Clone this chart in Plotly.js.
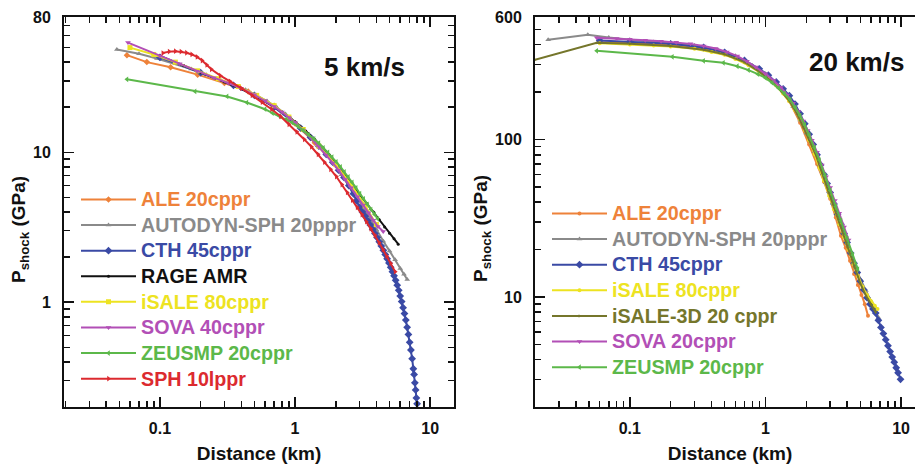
<!DOCTYPE html>
<html>
<head>
<meta charset="utf-8">
<script src="https://cdn.plot.ly/plotly-3.0.1.min.js"></script>
<style>html,body{margin:0;padding:0;background:#fff;overflow:hidden;}#chart{width:930px;height:470px;}</style>
</head>
<body>
<div id="chart"></div>
<script>
// ---------- 5 km/s panel ----------
const ale5X = [0.057, 0.08, 0.12, 0.19, 0.3, 0.45, 0.7, 1.0, 1.4, 2.0, 2.6];
const ale5Y = [44.5, 40, 37, 33, 29, 25.5, 20.5, 15.6, 11.6, 8.2, 6.0];
const autodyn5X = [0.048, 0.07, 0.095, 0.13, 0.17, 0.22, 0.28, 0.35, 0.43, 0.52, 0.62, 0.73, 0.85, 1.0, 1.15, 1.3, 1.5, 1.7, 1.95, 2.2, 2.5, 2.8, 3.2, 3.6, 4.0, 4.5, 5.0, 5.5, 6.0, 6.4, 6.76];
const autodyn5Y = [48.6, 45.5, 42.3, 39, 36, 33, 30.5, 28.3, 26.2, 24, 22, 20, 18, 15.8, 14, 12.6, 11, 9.7, 8.4, 7.1, 6.0, 5.1, 4.3, 3.6, 3.05, 2.55, 2.2, 1.92, 1.68, 1.54, 1.42];
const cth5X = [0.1, 0.2, 0.35, 0.5, 0.7, 0.9, 1.1, 1.3, 1.5, 1.7, 1.9, 2.1, 2.3, 2.5, 2.7, 2.85, 3.0, 3.15, 3.3, 3.45, 3.6, 3.75, 3.9, 4.05, 4.2, 4.35, 4.5, 4.65, 4.8, 4.95, 5.1, 5.25, 5.4, 5.55, 5.7, 5.85, 6.0, 6.15, 6.3, 6.45, 6.6, 6.75, 6.9, 7.05, 7.2, 7.35, 7.5, 7.6, 7.7, 7.8, 7.9, 8.0];
const cth5Y = [43, 34, 28, 24, 20, 16.8, 14.5, 12.6, 11, 9.7, 8.6, 7.6, 6.8, 6.0, 5.3, 4.75, 4.3, 4.0, 3.75, 3.5, 3.28, 3.07, 2.88, 2.7, 2.53, 2.37, 2.22, 2.08, 1.95, 1.83, 1.71, 1.6, 1.5, 1.4, 1.3, 1.2, 1.1, 1.01, 0.92, 0.84, 0.76, 0.68, 0.61, 0.54, 0.48, 0.42, 0.36, 0.33, 0.29, 0.26, 0.23, 0.21];
const rage5X = [0.1, 0.15, 0.2, 0.3, 0.4, 0.5, 0.6, 0.7, 0.8, 0.9, 1.0, 1.2, 1.4, 1.6, 1.8, 2.0, 2.3, 2.6, 3.0, 3.4, 3.8, 4.2, 4.6, 5.0, 5.4, 5.8];
const rage5Y = [44, 38, 34, 29.5, 26.5, 24, 22, 20.2, 18.6, 17.2, 16.0, 13.9, 12.2, 10.8, 9.6, 8.5, 7.2, 6.15, 5.25, 4.55, 4.0, 3.55, 3.18, 2.89, 2.65, 2.44];
const isale5X = [0.06, 0.09, 0.13, 0.19, 0.27, 0.38, 0.52, 0.7, 0.9, 1.15, 1.5, 2.0, 2.6, 3.3, 4.0];
const isale5Y = [50, 45, 40, 35, 31, 27.5, 24, 20.5, 17.2, 14.2, 11.0, 8.3, 6.1, 4.4, 3.3];
const sova5X = [0.058, 0.1, 0.14, 0.188, 0.25, 0.32, 0.4, 0.5, 0.6, 0.7, 0.8, 0.9, 1.0, 1.15, 1.3, 1.5, 1.7, 1.9, 2.1, 2.35, 2.6, 2.9, 3.2, 3.5, 3.8, 4.1, 4.49];
const sova5Y = [54, 44, 39, 34.7, 31.5, 29, 26.7, 24.2, 22.1, 20.2, 18.6, 17.1, 15.8, 14.0, 12.6, 10.9, 9.6, 8.5, 7.6, 6.6, 5.8, 5.05, 4.45, 3.95, 3.52, 3.2, 2.97];
const zeus5X = [0.057, 0.182, 0.314, 0.44, 0.6, 0.68, 0.77, 0.86, 0.95, 1.05, 1.15, 1.26, 1.38, 1.5, 1.62, 1.75, 1.88, 2.02, 2.17, 2.32, 2.48, 2.65, 2.83, 3.02, 3.22, 3.43, 3.65, 3.88, 4.1];
const zeus5Y = [30.7, 25.5, 23.6, 21.5, 19.4, 18.3, 17.4, 16.5, 15.8, 14.9, 14.0, 13.1, 12.3, 11.5, 10.7, 10.0, 9.3, 8.65, 8.0, 7.4, 6.85, 6.3, 5.8, 5.3, 4.9, 4.5, 4.15, 3.85, 3.6];
const sph5X = [0.105, 0.117, 0.13, 0.143, 0.157, 0.172, 0.188, 0.205, 0.222, 0.24, 0.28, 0.33, 0.4, 0.48, 0.57, 0.67, 0.78, 0.9, 1.03, 1.17, 1.32, 1.48, 1.65, 1.83, 2.02, 2.22, 2.43, 2.65, 2.88, 3.12, 3.37, 3.63, 3.9, 4.18, 4.47, 4.77, 5.1, 5.5];
const sph5Y = [46, 47, 47.3, 47, 46.2, 45, 43.3, 41, 38.3, 35.8, 32.5, 29.8, 26.8, 24, 21.6, 19.4, 17.4, 15.4, 13.7, 12.2, 10.9, 9.7, 8.6, 7.7, 6.9, 6.1, 5.4, 4.8, 4.3, 3.85, 3.45, 3.1, 2.8, 2.5, 2.25, 2.03, 1.82, 1.6];

// ---------- 20 km/s panel ----------
const ale20X = [0.06, 0.1, 0.2, 0.35, 0.6, 0.9, 1.2, 1.5, 1.8, 2.1, 2.4, 2.7, 3.0, 3.3, 3.6, 3.9, 4.2, 4.5, 4.8, 5.1, 5.4, 5.7];
const ale20Y = [415, 410, 398, 376, 330, 273, 222, 175, 128, 93, 70, 54, 42, 32, 24.5, 20.5, 17, 14, 11.9, 10.3, 9.0, 7.6];
const autodyn20X = [0.025, 0.049, 0.07, 0.1, 0.15, 0.2, 0.3, 0.45, 0.6, 0.8, 1.0, 1.2, 1.4, 1.6, 1.8, 2.0, 2.3, 2.6, 3.0, 3.5, 4.0, 4.5, 5.0, 5.5, 6.0, 6.4, 6.8];
const autodyn20Y = [430, 463, 445, 430, 416, 408, 395, 368, 340, 295, 262, 228, 196, 162, 133, 110, 84, 63, 44, 31, 22, 16.5, 13, 11, 9.4, 8.3, 7.4];
const cth20X = [0.06, 0.1, 0.2, 0.35, 0.5, 0.7, 0.9, 1.05, 1.2, 1.35, 1.5, 1.65, 1.8, 1.95, 2.1, 2.25, 2.4, 2.55, 2.7, 2.85, 3.0, 3.2, 3.4, 3.6, 3.8, 4.0, 4.25, 4.5, 4.75, 5.0, 5.3, 5.6, 5.9, 6.2, 6.5, 6.8, 7.1, 7.4, 7.7, 8.0, 8.3, 8.6, 8.9, 9.2, 9.5, 9.9];
const cth20Y = [425, 418, 405, 384, 358, 318, 281, 256, 232, 210, 190, 168, 146, 126, 108, 93, 80, 69, 60, 52.5, 46, 39, 33.5, 29, 25.3, 22.2, 19, 16.4, 14.3, 12.6, 11.1, 9.9, 9.0, 8.4, 7.9, 7.1, 6.4, 5.85, 5.35, 4.9, 4.5, 4.15, 3.85, 3.55, 3.3, 3.0];
const isale20X = [0.06, 0.1, 0.15, 0.2, 0.3, 0.4, 0.5, 0.6, 0.75, 0.9, 1.05, 1.2, 1.35, 1.5, 1.65, 1.8, 1.95, 2.1, 2.3, 2.5, 2.7, 2.95, 3.2, 3.5, 3.8, 4.1, 4.45, 4.8, 5.2, 5.6, 6.0, 6.4, 6.7];
const isale20Y = [408, 402, 396, 390, 377, 360, 345, 325, 296, 268, 243, 220, 196, 175, 154, 134, 115, 99, 81, 66, 55, 44, 36, 29, 24, 20, 16.2, 13.6, 11.6, 10.3, 9.4, 8.8, 8.4];
const isale3d20X = [0.02, 0.057, 0.1, 0.2, 0.35, 0.5, 0.7, 0.9, 1.1, 1.3, 1.5, 1.7, 1.9, 2.1, 2.35, 2.6, 2.9, 3.2, 3.6, 4.0, 4.5, 5.0, 5.5, 6.0, 6.5];
const isale3d20Y = [321, 411, 405, 392, 372, 348, 310, 270, 235, 204, 176, 147, 120, 100, 80, 62, 47, 37.5, 28, 21, 15.5, 12.2, 10.2, 9.0, 8.0];
const sova20X = [0.057, 0.08, 0.1, 0.13, 0.17, 0.22, 0.28, 0.35, 0.43, 0.52, 0.62, 0.73, 0.85, 1.0, 1.15, 1.3, 1.45, 1.6, 1.75, 1.9, 2.05, 2.2, 2.4, 2.6, 2.8, 3.0, 3.25, 3.5, 3.8, 4.1];
const sova20Y = [443, 438, 433, 427, 421, 414, 405, 393, 378, 360, 339, 314, 289, 262, 237, 214, 192, 170, 150, 131, 114, 99, 83, 69, 58, 49.5, 41, 34, 27.8, 23];
const zeus20X = [0.057, 0.206, 0.35, 0.49, 0.62, 0.75, 0.88, 1.0, 1.12, 1.25, 1.38, 1.52, 1.66, 1.8, 1.95, 2.1, 2.3, 2.5, 2.75, 3.0, 3.3, 3.6, 4.0, 4.4, 4.8];
const zeus20Y = [366, 335, 316, 307, 292, 276, 260, 246, 229, 212, 196, 179, 160, 142, 124, 107, 89, 74, 59, 47.5, 37.5, 30.5, 23.5, 18.5, 15];

// ---------- labels / ticks ----------
const leftTitle = '5 km/s';
const rightTitle = '20 km/s';
const xTitle = 'Distance (km)';
const yTitle = 'P<sub>shock</sub> (GPa)';
const xTickVals = [0.1, 1, 10];
const xTickText = ['0.1', '1', '10'];
const leftYTickVals = [1, 10, 80];
const leftYTickText = ['1', '10', '80'];
const rightYTickVals = [10, 100, 600];
const rightYTickText = ['10', '100', '600'];
const xMinor = [0.02,0.03,0.04,0.05,0.06,0.07,0.08,0.09,0.2,0.3,0.4,0.5,0.6,0.7,0.8,0.9,2,3,4,5,6,7,8,9];
const leftYMinor = [0.2,0.3,0.4,0.5,0.6,0.7,0.8,0.9,2,3,4,5,6,7,8,9,20,30,40,50,60,70];
const rightYMinor = [3,4,5,6,7,8,9,20,30,40,50,60,70,80,90,200,300,400,500];

const C = {
  ale: '#EE823A', autodyn: '#8A8A8A', cth: '#3A4AA5', rage: '#111111',
  isale: '#EDE321', isale3d: '#75762B', sova: '#B24FB6', zeus: '#5CB84A', sph: '#DC2A2F'
};

function tr(x, y, name, color, symbol, msize, xa, ya, leg) {
  return {
    x: x, y: y, type: 'scatter', mode: 'lines+markers',
    name: '<span style="color:' + color + ';font-size:19.7px">' + name + '</span>',
    line: {color: color, width: 2},
    marker: {color: color, symbol: symbol, size: msize},
    xaxis: xa, yaxis: ya, legend: leg
  };
}

const data = [
  tr(ale5X, ale5Y, 'ALE 20cppr', C.ale, 'diamond', 5, 'x', 'y', 'legend'),
  tr(autodyn5X, autodyn5Y, 'AUTODYN-SPH 20pppr', C.autodyn, 'triangle-up', 5, 'x', 'y', 'legend'),
  tr(cth5X, cth5Y, 'CTH 45cppr', C.cth, 'diamond', 6, 'x', 'y', 'legend'),
  tr(rage5X, rage5Y, 'RAGE AMR', C.rage, 'circle', 3, 'x', 'y', 'legend'),
  tr(isale5X, isale5Y, 'iSALE 80cppr', C.isale, 'square', 5, 'x', 'y', 'legend'),
  tr(sova5X, sova5Y, 'SOVA 40cppr', C.sova, 'triangle-down', 5, 'x', 'y', 'legend'),
  tr(zeus5X, zeus5Y, 'ZEUSMP 20cppr', C.zeus, 'triangle-left', 5, 'x', 'y', 'legend'),
  tr(sph5X, sph5Y, 'SPH 10lppr', C.sph, 'triangle-right', 5, 'x', 'y', 'legend'),

  tr(ale20X, ale20Y, 'ALE 20cppr', C.ale, 'circle', 4, 'x2', 'y2', 'legend2'),
  tr(autodyn20X, autodyn20Y, 'AUTODYN-SPH 20pppr', C.autodyn, 'triangle-up', 5, 'x2', 'y2', 'legend2'),
  tr(cth20X, cth20Y, 'CTH 45cppr', C.cth, 'diamond', 6, 'x2', 'y2', 'legend2'),
  tr(isale20X, isale20Y, 'iSALE 80cppr', C.isale, 'circle', 4, 'x2', 'y2', 'legend2'),
  tr(isale3d20X, isale3d20Y, 'iSALE-3D 20 cppr', C.isale3d, 'triangle-right', 3, 'x2', 'y2', 'legend2'),
  tr(sova20X, sova20Y, 'SOVA 20cppr', C.sova, 'triangle-down', 5, 'x2', 'y2', 'legend2'),
  tr(zeus20X, zeus20Y, 'ZEUSMP 20cppr', C.zeus, 'triangle-left', 5, 'x2', 'y2', 'legend2')
];

const FONT = 'Liberation Sans, Arial, sans-serif';
const W = 930;
function xAxis(domain, range, anchor) {
  return {
    type: 'log', domain: domain, range: range.map(Math.log10), anchor: anchor,
    showline: true, linecolor: '#111', linewidth: 2, mirror: 'allticks',
    ticks: 'inside', ticklen: 10, tickwidth: 1.5, tickcolor: '#111',
    tickmode: 'array', tickvals: xTickVals, ticktext: xTickText,
    tickfont: {family: FONT, size: 16, color: '#111', weight: 'bold'},
    ticklabelstandoff: 6,
    minor: {tickmode: 'array', tickvals: xMinor, ticks: 'inside', ticklen: 6, tickwidth: 1.5, tickcolor: '#111', showgrid: false},
    showgrid: false, zeroline: false,
    title: {text: xTitle, font: {family: FONT, size: 19, color: '#111', weight: 'bold'}, standoff: 10}
  };
}
function yAxis(range, anchor, tv, tt, minorVals) {
  return {
    type: 'log', domain: [0, 1], range: range.map(Math.log10), anchor: anchor,
    showline: true, linecolor: '#111', linewidth: 2, mirror: 'allticks',
    ticks: 'inside', ticklen: 10, tickwidth: 1.5, tickcolor: '#111',
    tickmode: 'array', tickvals: tv, ticktext: tt,
    tickfont: {family: FONT, size: 16, color: '#111', weight: 'bold'},
    ticklabelstandoff: 8,
    minor: {tickmode: 'array', tickvals: minorVals, ticks: 'inside', ticklen: 6, tickwidth: 1.5, tickcolor: '#111', showgrid: false},
    showgrid: false, zeroline: false
  };
}

const legendBase = {
  bgcolor: 'rgba(0,0,0,0)', borderwidth: 0, tracegroupgap: 0,
  font: {family: FONT, size: 17.4, weight: 'bold'},
  itemwidth: 55, traceorder: 'normal', xanchor: 'left', yanchor: 'top', itemclick: false
};

function note(text, px, py, size, angle) {
  return {text: text, xref: 'paper', yref: 'paper', x: px / W, y: 1 - (py - 17) / 390,
    xanchor: 'center', yanchor: 'middle', showarrow: false, textangle: angle || 0,
    font: {family: FONT, size: size, color: '#111', weight: 'bold'}};
}

const layout = {
  width: W, height: 470,
  margin: {l: 0, r: 0, t: 17, b: 63},
  paper_bgcolor: '#fff', plot_bgcolor: '#fff',
  showlegend: true,
  xaxis: xAxis([64 / W, 454 / W], [0.0195, 15], 'y'),
  yaxis: yAxis([0.2, 80], 'x', leftYTickVals, leftYTickText, leftYMinor),
  xaxis2: xAxis([535 / W, 925 / W], [0.02, 15], 'y2'),
  yaxis2: yAxis([2, 600], 'x2', rightYTickVals, rightYTickText, rightYMinor),
  legend: Object.assign({}, legendBase, {x: 76 / W, y: 0.578}),
  legend2: Object.assign({}, legendBase, {x: 547 / W, y: 0.542}),
  annotations: [
    note(leftTitle, 364, 67, 26),
    note(rightTitle, 856, 62, 26),
    note(yTitle, 20, 230, 19, -90),
    note(yTitle, 482, 229, 19, -90)
  ]
};

Plotly.newPlot('chart', data, layout, {displayModeBar: false, staticPlot: true});
</script>
</body>
</html>
